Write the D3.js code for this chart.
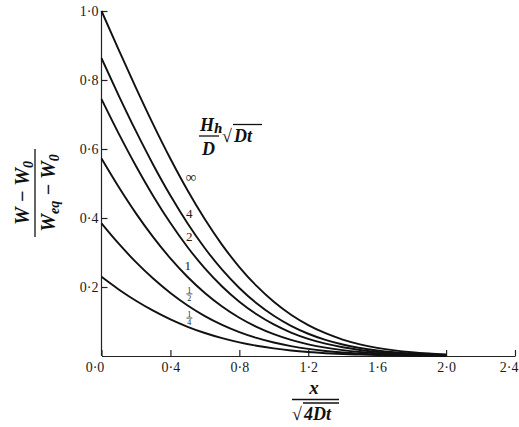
<!DOCTYPE html>
<html>
<head>
<meta charset="utf-8">
<script src="https://cdn.jsdelivr.net/npm/d3@7"></script>
<style>
  html, body { margin: 0; padding: 0; background: #fff; }
  svg { display: block; }
  .tick text { font-family: "Liberation Serif", "DejaVu Serif", serif; font-size: 14px; fill: #1a1a1a; }
  .math { font-family: "Liberation Serif", "DejaVu Serif", serif; font-weight: bold; font-style: italic; fill: #111; }
  .clabel { font-family: "Liberation Serif", "DejaVu Serif", serif; fill: #222; }
</style>
</head>
<body>
<svg id="chart" width="519" height="427"></svg>
<script>
// ---- data ----
const xValues = [0.0,0.1,0.2,0.3,0.4,0.5,0.6,0.7,0.8,0.9,1.0,1.1,1.2,1.3,1.4,1.5,1.6,1.7,1.8,1.9,2.0];
const seriesInf     = [1.000,0.8875,0.7773,0.6714,0.5716,0.4795,0.3961,0.3222,0.2579,0.2031,0.1573,0.1198,0.0897,0.0660,0.0477,0.0339,0.0237,0.0162,0.0109,0.0072,0.0047];
const series4       = [0.863,0.7550,0.6516,0.5545,0.4650,0.3841,0.3124,0.2502,0.1972,0.1529,0.1166,0.0874,0.0645,0.0467,0.0332,0.0233,0.0160,0.0108,0.0071,0.0047,0.0030];
const series2       = [0.7446,0.6447,0.5509,0.4641,0.3854,0.3153,0.2540,0.2016,0.1574,0.1210,0.0915,0.0680,0.0497,0.0357,0.0252,0.0175,0.0120,0.0080,0.0053,0.0034,0.0022];
const series1       = [0.5724,0.4898,0.4135,0.3446,0.2830,0.2290,0.1827,0.1435,0.1110,0.0845,0.0633,0.0467,0.0339,0.0241,0.0169,0.0117,0.0079,0.0053,0.0034,0.0022,0.0014];
const seriesHalf    = [0.3843,0.3254,0.2720,0.2244,0.1826,0.1465,0.1158,0.0903,0.0693,0.0524,0.0390,0.0286,0.0206,0.0146,0.0102,0.0070,0.0047,0.0031,0.0020,0.0013,0.0008];
const seriesQuarter = [0.2296,0.1930,0.1602,0.1314,0.1062,0.0847,0.0666,0.0517,0.0394,0.0297,0.0220,0.0160,0.0115,0.0081,0.0056,0.0039,0.0026,0.0017,0.0011,0.0007,0.0004];
const seriesNames = ["∞","4","2","1","1/2","1/4"];
const labelAt = [[0.52,0.52],[0.51,0.412],[0.51,0.346],[0.50,0.262],[0.51,0.18],[0.51,0.11]];
const xTicks = [0.0,0.4,0.8,1.2,1.6,2.0,2.4];
const yTicks = [0.2,0.4,0.6,0.8,1.0];

const allSeries = [seriesInf, series4, series2, series1, seriesHalf, seriesQuarter];

const svg = d3.select("#chart");
const x = d3.scaleLinear().domain([0, 2.4]).range([101.5, 515]);
const y = d3.scaleLinear().domain([0, 1]).range([356, 11]);
const fmt = d => d3.format(".1f")(d).replace(".", "·");

// axes
const gx = svg.append("g").attr("transform", `translate(0,${y(0)})`)
  .call(d3.axisBottom(x).tickValues(xTicks).tickSizeInner(-6).tickSizeOuter(0).tickPadding(6).tickFormat(fmt));
gx.selectAll(".tick text").filter(d => d === 0).attr("dx", -7);
gx.selectAll(".tick text").filter(d => d === 2.4).attr("text-anchor", "end").attr("dx", 3);
const gy = svg.append("g").attr("transform", `translate(${x(0)},0)`)
  .call(d3.axisLeft(y).tickValues(yTicks).tickSizeInner(-6).tickSizeOuter(0).tickPadding(3).tickFormat(fmt));
svg.selectAll(".domain, .tick line").attr("stroke", "#222").attr("stroke-width", 1.2);
gy.select(".domain").attr("d", `M0,${y(0)}V${y(1)}`);

// curves
const line = d3.line().x((d, i) => x(xValues[i])).y(d => y(d)).curve(d3.curveMonotoneX);
svg.append("g").selectAll("path").data(allSeries).join("path")
  .attr("d", d => line(d)).attr("fill", "none").attr("stroke", "#111").attr("stroke-width", 1.9);

// curve labels
seriesNames.forEach((name, i) => {
  const px = x(labelAt[i][0]), py = y(labelAt[i][1]);
  if (name.includes("/")) {
    const [n, dnm] = name.split("/");
    const g = svg.append("g").attr("class", "clabel");
    g.append("text").attr("x", px).attr("y", py - 1).attr("text-anchor", "middle").attr("font-size", 8).text(n);
    g.append("line").attr("x1", px - 3).attr("x2", px + 3).attr("y1", py).attr("y2", py).attr("stroke", "#222").attr("stroke-width", 0.8);
    g.append("text").attr("x", px).attr("y", py + 7).attr("text-anchor", "middle").attr("font-size", 8).text(dnm);
  } else {
    svg.append("text").attr("class", "clabel").attr("x", px).attr("y", py)
      .attr("text-anchor", "middle").attr("dominant-baseline", "central")
      .attr("font-size", name === "∞" ? 15 : 13).text(name);
  }
});

// legend annotation H_h/D sqrt(Dt)
const ann = svg.append("g").attr("class", "math");
ann.append("text").attr("x", 200).attr("y", 131).attr("font-size", 18).text("H")
  .append("tspan").attr("font-size", 12).attr("dy", 2).attr("font-family", "DejaVu Serif").text("h");
ann.append("line").attr("x1", 199).attr("x2", 219).attr("y1", 136).attr("y2", 136).attr("stroke", "#111").attr("stroke-width", 1.3);
ann.append("text").attr("x", 202).attr("y", 155).attr("font-size", 18).text("D");
ann.append("text").attr("x", 222).attr("y", 142).attr("font-size", 18).attr("font-style", "normal").text("√");
ann.append("line").attr("x1", 233).attr("x2", 262).attr("y1", 124.5).attr("y2", 124.5).attr("stroke", "#111").attr("stroke-width", 1.3);
ann.append("text").attr("x", 234).attr("y", 142).attr("font-size", 18).text("Dt");

// x axis title
const xt = svg.append("g").attr("class", "math");
xt.append("text").attr("x", 314).attr("y", 394).attr("text-anchor", "middle").attr("font-size", 19).text("x");
xt.append("line").attr("x1", 292).attr("x2", 339).attr("y1", 399.5).attr("y2", 399.5).attr("stroke", "#111").attr("stroke-width", 1.3);
xt.append("text").attr("x", 292).attr("y", 420).attr("font-size", 18).attr("font-style", "normal").text("√");
xt.append("line").attr("x1", 303).attr("x2", 339).attr("y1", 403).attr("y2", 403).attr("stroke", "#111").attr("stroke-width", 1.3);
xt.append("text").attr("x", 304).attr("y", 420).attr("font-size", 18).text("4Dt");

// y axis title (rotated fraction)
const yt = svg.append("g").attr("class", "math").attr("transform", "translate(35,193) rotate(-90)");
yt.append("text").attr("x", 0).attr("y", -6).attr("text-anchor", "middle").attr("font-size", 20).text("W − W")
  .append("tspan").attr("font-size", 14).attr("dy", 4).text("0");
yt.append("line").attr("x1", -44).attr("x2", 44).attr("y1", 0).attr("y2", 0).attr("stroke", "#111").attr("stroke-width", 1.3);
const den = yt.append("text").attr("x", 0).attr("y", 20).attr("text-anchor", "middle").attr("font-size", 20);
den.append("tspan").text("W");
den.append("tspan").attr("font-size", 14).attr("dy", 4).text("eq");
den.append("tspan").attr("dy", -4).text(" − W");
den.append("tspan").attr("font-size", 14).attr("dy", 4).text("0");
</script>
</body>
</html>
